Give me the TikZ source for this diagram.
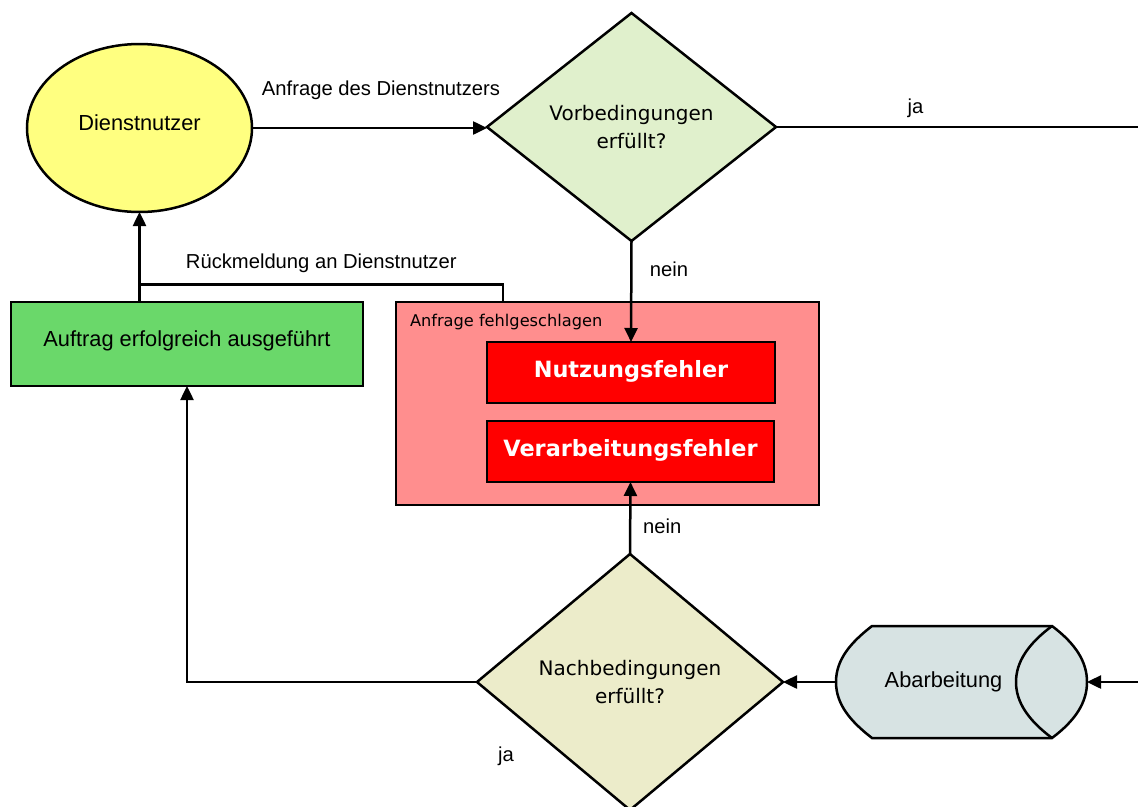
\documentclass[tikz,border=0pt]{standalone}
\usepackage{fontspec}
\setmainfont{Liberation Sans}
\newfontfamily\dvfont{DejaVu Sans}
\usetikzlibrary{shapes.geometric,arrows.meta}

\definecolor{userfill}{HTML}{FFFF80}
\definecolor{prefill}{HTML}{E0F0CC}
\definecolor{postfill}{HTML}{ECECCA}
\definecolor{okgreen}{HTML}{6AD86A}
\definecolor{failpink}{HTML}{FF8E8E}
\definecolor{errred}{HTML}{FF0000}
\definecolor{procfill}{HTML}{D7E3E3}

\begin{document}
\begin{tikzpicture}[x=1pt, y=-1pt,
  every node/.style={inner sep=0pt, outer sep=0pt},
  conn/.style={line width=2.5pt, line join=miter},
  arr/.style={conn, -{Triangle[length=14pt,width=13pt]}},
  shapeborder/.style={draw, line width=2.5pt},
  maintext/.style={font=\fontsize{21.8}{26}\selectfont, text height=16pt, text depth=11pt},
  lbl/.style={font=\fontsize{20.2}{24}\selectfont},
  decision/.style={diamond, shapeborder, align=center,
    font=\dvfont\fontsize{20}{27.5}\selectfont},
  errbox/.style={rectangle, shapeborder, fill=errred, text=white,
    font=\dvfont\bfseries\fontsize{22.4}{26}\selectfont,
    text height=16pt, text depth=7pt},
]
\clip (0,0) rectangle (1138,806);

% service user
\node[ellipse, shapeborder, fill=userfill, maintext,
  minimum width=225pt, minimum height=168pt] (nutzer) at (139.5,128) {Dienstnutzer};

% precondition check
\node[decision, fill=prefill, minimum width=289pt, minimum height=228pt]
  (vor) at (631.5,127) {Vorbedingungen\\erfüllt?};

% success
\node[rectangle, shapeborder, fill=okgreen, maintext,
  minimum width=352pt, minimum height=84pt] (auftrag) at (187,344)
  {Auftrag erfolgreich ausgeführt};

% failure group
\node[rectangle, shapeborder, fill=failpink,
  minimum width=423pt, minimum height=203pt] (fail) at (607.5,403.5) {};
\node[font=\dvfont\fontsize{16.2}{19}\selectfont, anchor=base west]
  (failtitle) at (410,326.7) {Anfrage fehlgeschlagen};
\node[errbox, minimum width=288pt, minimum height=61pt] (nutzf) at (631,372.5) {Nutzungsfehler};
\node[errbox, minimum width=287pt, minimum height=61pt] (verf) at (630.5,451.5) {Verarbeitungsfehler};

% postcondition check
\node[decision, fill=postfill, minimum width=306pt, minimum height=256pt]
  (nach) at (630,682) {Nachbedingungen\\erfüllt?};

% processing (stored-data shape)
\path[shapeborder, fill=procfill]
  (872,626) -- (1052,626)
  .. controls (1076,644) and (1087,662) .. (1087,682)
  .. controls (1087,702) and (1076,720) .. (1052,738)
  -- (872,738)
  .. controls (850,721) and (836,704) .. (836,682)
  .. controls (836,660) and (850,643) .. (872,626) -- cycle;
\draw[line width=2.5pt] (1052,626)
  .. controls (1028,644) and (1016,662) .. (1016,682)
  .. controls (1016,702) and (1028,720) .. (1052,738);
\node[maintext] (abarb) at (943.5,684.5) {Abarbeitung};
\coordinate (abL) at (836,682);
\coordinate (abR) at (1087,682);

% loose ends and junctions
\coordinate (inR) at (1138,682);
\coordinate (jaR) at (1138,127);
\coordinate (rueck) at (139.5,284.3);

% connectors
\draw[arr] (nutzer.east) -- (nutzer.east -| vor.west)
  node[lbl, anchor=base, pos=0.549, yshift=33pt] {Anfrage des Dienstnutzers};
\draw[conn] (vor.east) -- (jaR)
  node[lbl, anchor=base, pos=0.385, yshift=13.7pt] {ja};
\draw[arr] (vor.south) -- (nutzf.north)
  node[lbl, anchor=base west, pos=0.347, xshift=18.5pt] {nein};
\draw[arr] (auftrag.north -| nutzer.south) -- (nutzer.south);
\draw[conn] ([xshift=107pt]fail.north west) |- (rueck)
  node[lbl, anchor=base, pos=0.75, yshift=16pt] {Rückmeldung an Dienstnutzer};
\draw[arr] (nach.north) -- (verf.south)
  node[lbl, anchor=base west, pos=0.29, xshift=13pt] {nein};
\draw[arr] (nach.west) -| (auftrag.south);
\node[lbl, anchor=base] (janach) at ([xshift=29pt,yshift=-79.7pt]nach.west) {ja};
\draw[arr] (abL) -- (nach.east);
\draw[arr] (inR) -- (abR);
\end{tikzpicture}
\end{document}
